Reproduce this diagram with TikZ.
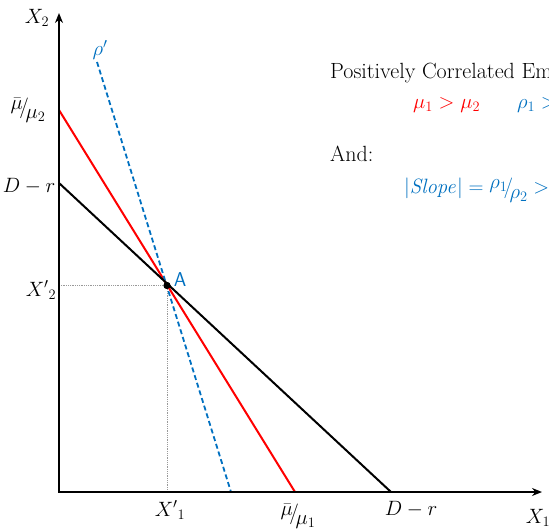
\documentclass[tikz,border=0pt]{standalone}
\usetikzlibrary{arrows.meta}
\definecolor{myblue}{RGB}{0,112,192}
\newcommand{\slfrac}[2]{\raisebox{0.45ex}{$#1$}\!\big/\!\raisebox{-0.55ex}{$#2$}}
\begin{document}
\begin{tikzpicture}[x=1pt,y=1pt,font=\fontsize{20}{23}\selectfont,
  lbl/.style={inner sep=0pt},
  txt/.style={inner sep=0pt,font=\fontsize{22}{26}\selectfont},
  ax/.style={line width=2.4pt,{Stealth[length=10pt,width=8pt]}-{Stealth[length=10pt,width=8pt]}}]
\clip (0,0) rectangle (549,531);

\coordinate (o) at (59,39);
\coordinate (ytop) at (59,518);
\coordinate (xend) at (542,39);

\coordinate (b2) at (59,348);
\coordinate (b1) at (391,39);
\coordinate (r2) at (59,421);
\coordinate (r1) at (295,39);
\coordinate (p2) at (97,469);
\coordinate (p1) at (231,39);

\node[circle,fill,inner sep=0pt,minimum size=7pt] (a) at (167,245.5) {};

\draw[gray!80,line width=0.6pt,dash pattern=on 1pt off 0.8pt] (o |- a) -- (a) -- (a |- o);
\draw[red,line width=2pt] (r2)--(r1);
\draw[myblue,line width=1.8pt,dash pattern=on 5pt off 3pt] (p2)--(p1);
\draw[line width=2pt] (b2)--(b1);
\draw[ax] (ytop) -- (o) -- (xend);
\node[circle,fill,inner sep=0pt,minimum size=7pt] at (a) {};

\node[lbl] (x2) at (37,513) {$X_2$};
\node[lbl] (x1) at (538,13) {$X_1$};
\node[lbl,text=myblue] (rho) at (100,481) {$\rho'$};
\node[lbl] (mu2) at (28,421) {\slfrac{\bar{\mu}}{\mu_2}};
\node[lbl] (dr2) at (29,345) {$D-r$};
\node[lbl] (xp2) at (41,241) {${X'}_2$};
\node[lbl,text=myblue] (alab) at (180,251) {\sffamily A};
\node[lbl] (xp1) at (170,21) {${X'}_1$};
\node[lbl] (mu1) at (298,15) {\slfrac{\bar{\mu}}{\mu_1}};
\node[lbl] (dr1) at (411,22) {$D-r$};

\node[txt,anchor=base west] (title) at (330,452) {Positively Correlated Em};
\node[txt,anchor=west,text=red] (muineq) at (413,426) {$\mu_1>\mu_2$};
\node[txt,anchor=west,text=myblue] (rhoineq) at (517,426) {$\rho_1>$};
\node[txt,anchor=base west] (and) at (330,369) {And:};
\node[txt,anchor=west,text=myblue] (slope) at (404,341) {$|\mathit{Slope}|={}$\slfrac{\rho_1}{\rho_2}${}>$};
\end{tikzpicture}
\end{document}
